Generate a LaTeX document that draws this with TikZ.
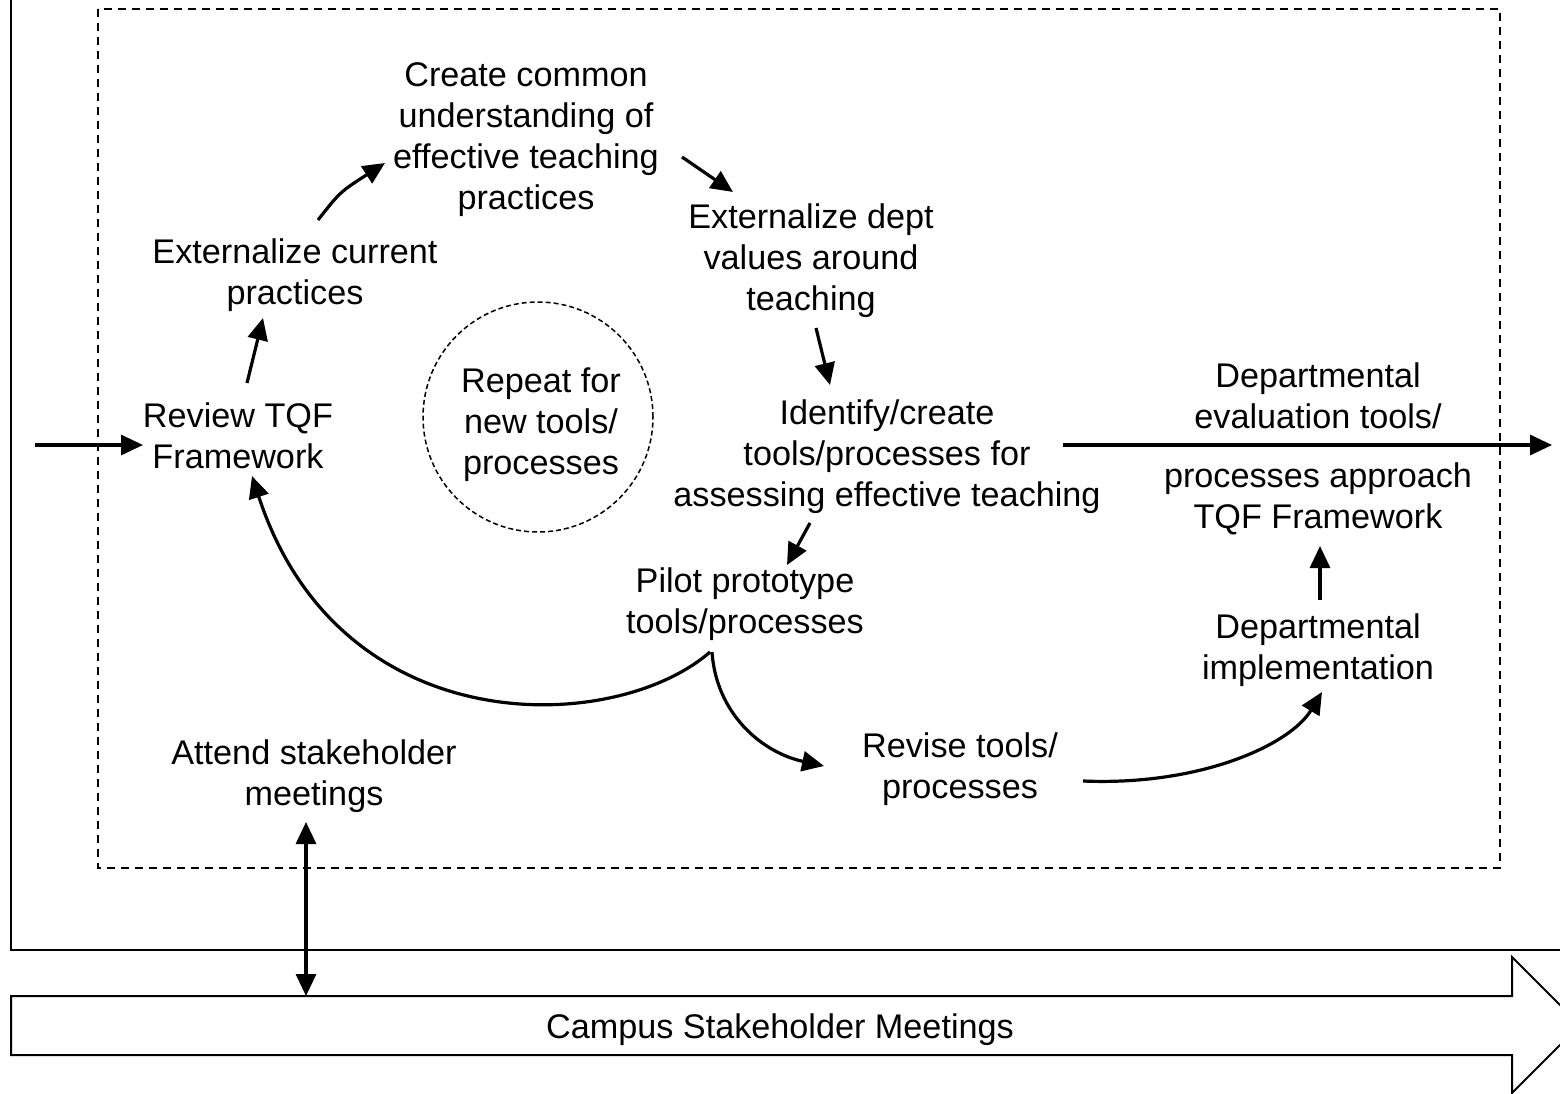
\documentclass[tikz,border=0pt]{standalone}
\usepackage{fontspec}
\setmainfont{Liberation Sans}
\usetikzlibrary{arrows.meta,calc}
\begin{document}
\begin{tikzpicture}[x=1pt,y=-1pt,
  lbl/.style={align=center,inner sep=0pt,font=\fontsize{34.2}{41}\selectfont},
  arr/.style={line width=3.2pt,-{Triangle[length=22pt,width=20pt]}},
  both/.style={line width=3.2pt,{Triangle[length=22pt,width=20pt]}-{Triangle[length=22pt,width=20pt]}},
  frame/.style={line width=2pt},
  dframe/.style={line width=1.8pt,dash pattern=on 8pt off 6pt},
  dcircle/.style={line width=1.5pt,dash pattern=on 5pt off 3pt}]
\useasboundingbox (0,0) rectangle (1560,1094);
\clip (0,0) rectangle (1560,1094);

% outer frame (only its left and bottom sides are in view)
\draw[frame] (11,-10) -- (11,950) -- (1580,950);
% working area
\draw[dframe] (98,9) rectangle (1500,868);
% block arrow for campus meetings
\draw[frame] (11,996) -- (1512,996) -- (1512,957) -- (1580,1025) -- (1512,1093)
  -- (1512,1055) -- (11,1055) -- cycle;
\node[lbl] (campus) at (780,1030) {Campus Stakeholder Meetings};

% process steps
\node[lbl] (review) at (238,436) {Review TQF\\Framework};
\node[lbl] (extcur) at (295,275) {Externalize current\\practices};
\node[lbl] (common) at (526,140) {Create common\\understanding of\\effective teaching\\practices};
\node[lbl] (extdept) at (811,261) {Externalize dept\\values around\\teaching};
\node[lbl] (ident) at (887,457) {Identify/create\\tools/processes for\\assessing effective teaching};
\node[lbl] (pilot) at (745,604) {Pilot prototype\\tools/processes};
\node[lbl] (revise) at (960,769) {Revise tools/\\processes};
\node[lbl] (impl) at (1318,650) {Departmental\\implementation};
\node[lbl] (evalA) at (1318,396) {Departmental\\evaluation tools/};
\node[lbl] (evalB) at (1318,499) {processes approach\\TQF Framework};
\node[lbl] (attend) at (314,776) {Attend stakeholder\\meetings};
\node[draw,dcircle,circle,inner sep=0pt,minimum size=230pt] (repeat) at (538,417) {};
\node[lbl] (repeattxt) at (541,425) {Repeat for\\new tools/\\processes};

% loose ends of the through-flow
\coordinate (inflow) at (35,445);
\coordinate (outflow) at (1552,445);

% connectors
\draw[arr] (inflow) -- ($(review)+(-95,9)$);
\draw[arr] ($(review)+(9,-53)$) -- ($(extcur)+(-32,43)$);
\draw[arr] ($(extcur)+(23,-55)$) .. controls ($(extcur)+(45,-83)$) .. ($(common)+(-141,23)$);
\draw[arr] ($(common)+(156,17)$) -- ($(extdept)+(-78,-69)$);
\draw[arr] ($(extdept)+(5,67)$) -- ($(ident)+(-57,-72)$);
\draw[arr] ($(ident)+(-77,66)$) -- ($(pilot)+(42,-39)$);
\draw[arr] ($(pilot)+(-35,48)$) .. controls (615,735) and (340,745) .. ($(review)+(14,40)$);
\draw[arr] ($(pilot)+(-33,48)$) .. controls (716,712) and (760,752) .. ($(revise)+(-136,-3)$);
\draw[arr] ($(revise)+(123,12)$) .. controls (1200,786) and (1290,745) .. ($(impl)+(4,42)$);
\draw[arr] ($(impl)+(2,-50)$) -- ($(evalB)+(2,47)$);
\draw[arr] ($(ident)+(176,-12)$) -- (outflow);
\draw[both] ($(attend)+(-8,46)$) -- ($(campus)+(-474,-34)$);
\end{tikzpicture}
\end{document}
